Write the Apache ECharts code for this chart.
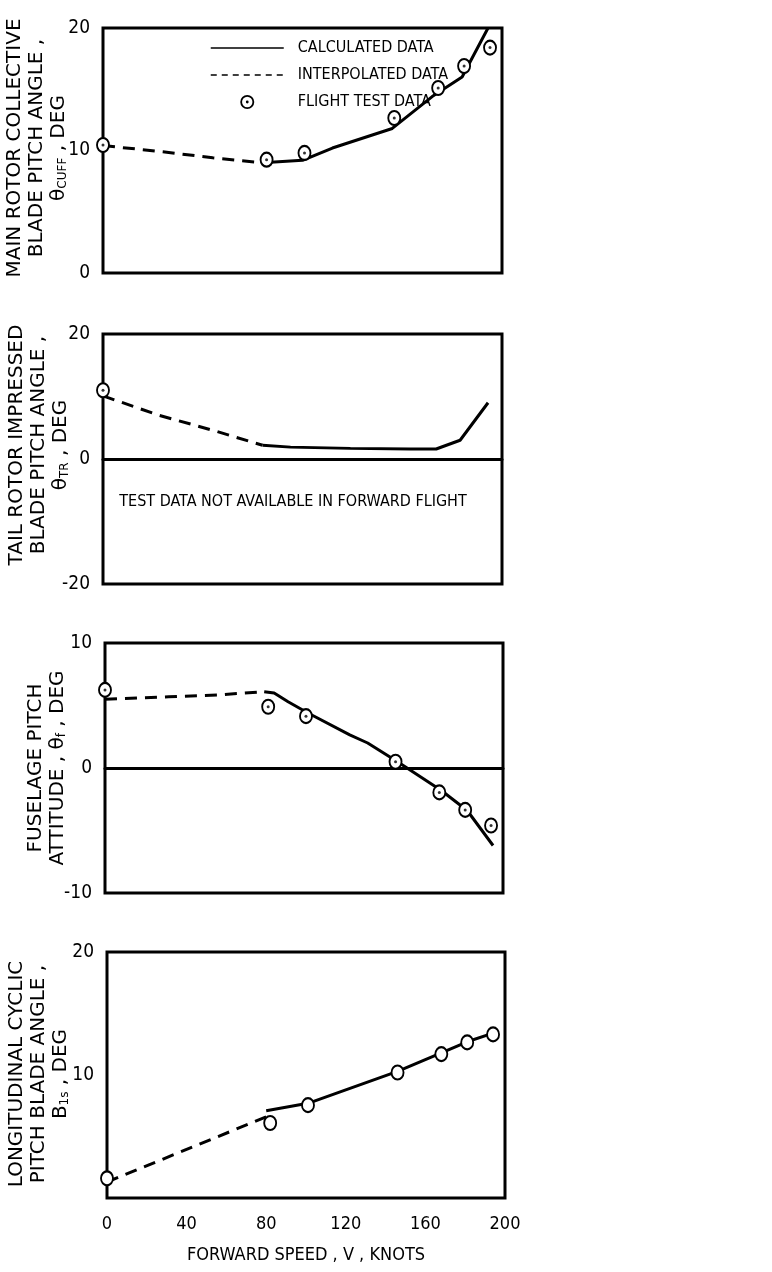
<!DOCTYPE html>
<html>
<head>
<meta charset="utf-8">
<title>Trim comparison versus forward speed</title>
<script src="https://cdn.jsdelivr.net/npm/echarts@6/dist/echarts.min.js"></script>
<style>
  html, body { margin: 0; padding: 0; background: #fff; }
  #chart { width: 772px; height: 1272px; }
</style>
</head>
<body>
<div id="chart"></div>
<script>
// Forward speed of the flight test points, knots
const testSpeed = [0, 82, 101, 146, 168, 181, 194];

// Main rotor collective blade pitch angle, deg
const collectiveTest = [10.45, 9.25, 9.8, 12.65, 15.1, 16.9, 18.4];
const collectiveInterpSpeed = [0, 30, 55, 80];
const collectiveInterp = [10.4, 9.9, 9.4, 9.0];
const collectiveCalcSpeed = [80, 100, 115, 145, 165, 180, 193];
const collectiveCalc = [9.0, 9.2, 10.2, 11.8, 14.4, 16.0, 20.0];

// Tail rotor impressed blade pitch angle, deg (hover test point only)
const tailTestSpeed = [0];
const tailTest = [11.0];
const tailInterpSpeed = [0, 28, 55, 80];
const tailInterp = [10.1, 7.0, 4.6, 2.2];
const tailCalcSpeed = [80, 94, 124, 154, 167, 179, 193];
const tailCalc = [2.2, 1.9, 1.7, 1.6, 1.6, 3.0, 9.0];

// Fuselage pitch attitude, deg
const attitudeTest = [6.25, 4.9, 4.15, 0.5, -1.95, -3.35, -4.6];
const attitudeInterpSpeed = [0, 32, 57, 80];
const attitudeInterp = [5.5, 5.7, 5.85, 6.1];
const attitudeCalcSpeed = [80, 85, 92, 102, 123, 132, 147, 169, 182, 195];
const attitudeCalc = [6.1, 6.0, 5.3, 4.4, 2.65, 2.0, 0.5, -1.8, -3.4, -6.2];

// Longitudinal cyclic pitch blade angle, deg
const cyclicTest = [1.6, 6.1, 7.55, 10.2, 11.7, 12.65, 13.3];
const cyclicInterpSpeed = [0, 80];
const cyclicInterp = [1.3, 6.6];
const cyclicCalcSpeed = [80, 101, 146, 168, 181, 194];
const cyclicCalc = [7.1, 7.7, 10.3, 11.8, 12.7, 13.4];

// Axis ranges and tick labels
const speedTicks = [0, 40, 80, 120, 160, 200];
const yRanges = [[0, 20, 10], [-20, 20, 20], [-10, 10, 10], [0, 20, 10]];

const LEGEND_CALC = 'CALCULATED DATA';
const LEGEND_INTERP = 'INTERPOLATED DATA';
const LEGEND_TEST = 'FLIGHT TEST DATA';

const FONT_NARROW = '"Liberation Sans Narrow", "DejaVu Sans Condensed", sans-serif';
const FONT_WIDE = '"DejaVu Sans", sans-serif';

const zip = (xs, ys) => xs.map((x, i) => [x, ys[i]]);

const panels = [
  { test: zip(testSpeed, collectiveTest), interp: zip(collectiveInterpSpeed, collectiveInterp),
    calc: zip(collectiveCalcSpeed, collectiveCalc), dot: true },
  { test: zip(tailTestSpeed, tailTest), interp: zip(tailInterpSpeed, tailInterp),
    calc: zip(tailCalcSpeed, tailCalc), dot: true },
  { test: zip(testSpeed, attitudeTest), interp: zip(attitudeInterpSpeed, attitudeInterp),
    calc: zip(attitudeCalcSpeed, attitudeCalc), dot: true },
  { test: zip(testSpeed, cyclicTest), interp: zip(cyclicInterpSpeed, cyclicInterp),
    calc: zip(cyclicCalcSpeed, cyclicCalc), dot: false }
];

const grids = [
  { left: 103, right: 270, top: 28, height: 245 },
  { left: 103, right: 270, top: 334, height: 250 },
  { left: 105, right: 269, top: 643, height: 250 },
  { left: 107, right: 267, top: 952, height: 246 }
].map(g => Object.assign(g, { show: true, borderColor: '#000', borderWidth: 3, backgroundColor: 'transparent' }));

const xAxes = grids.map((g, i) => ({
  type: 'value', gridIndex: i, min: speedTicks[0], max: speedTicks[speedTicks.length - 1],
  interval: speedTicks[1] - speedTicks[0],
  axisLine: { show: i === 1 || i === 2, onZero: true, lineStyle: { color: '#000', width: 3 } },
  axisTick: { show: false },
  splitLine: { show: false },
  axisLabel: {
    show: i === 3, color: '#000', fontFamily: FONT_NARROW, fontSize: 18, margin: 17
  },
  name: i === 3 ? 'FORWARD SPEED , V , KNOTS' : '',
  nameLocation: 'middle', nameGap: 48,
  nameTextStyle: { color: '#000', fontFamily: FONT_NARROW, fontSize: 18 }
}));

const yAxes = yRanges.map((r, i) => ({
  type: 'value', gridIndex: i, min: r[0], max: r[1], interval: r[2],
  axisLine: { show: false }, axisTick: { show: false }, splitLine: { show: false },
  axisLabel: {
    color: '#000', fontFamily: FONT_NARROW, fontSize: 19, margin: 13,
    formatter: v => (i === 3 && v === 0) ? '' : String(v)
  }
}));

const series = [];
panels.forEach((p, i) => {
  series.push({
    name: LEGEND_INTERP, type: 'line', xAxisIndex: i, yAxisIndex: i, data: p.interp,
    symbol: 'none', silent: true, z: 2, color: '#000',
    lineStyle: { color: '#000', width: 3, type: [12, 8] }
  });
  series.push({
    name: LEGEND_CALC, type: 'line', xAxisIndex: i, yAxisIndex: i, data: p.calc,
    symbol: 'none', silent: true, z: 2, color: '#000',
    lineStyle: { color: '#000', width: 3 }
  });
  series.push({
    name: LEGEND_TEST, type: 'scatter', xAxisIndex: i, yAxisIndex: i, data: p.test,
    symbol: 'circle', symbolSize: [12, 14], clip: false, silent: true, z: 4,
    itemStyle: { color: '#fff', borderColor: '#000', borderWidth: 2, opacity: 1 }
  });
  if (p.dot) {
    series.push({
      name: LEGEND_TEST, type: 'scatter', xAxisIndex: i, yAxisIndex: i, data: p.test,
      symbol: 'circle', symbolSize: 3, clip: false, silent: true, z: 5,
      itemStyle: { color: '#000' }
    });
  }
});

// Legend glyph: ring with a centre dot
const ringDot = 'path://M0,-7A7,7 0 1,1 0,7A7,7 0 1,1 0,-7ZM0,-5.2A5.2,5.2 0 1,0 0,5.2A5.2,5.2 0 1,0 0,-5.2ZM0,-1.4A1.4,1.4 0 1,1 0,1.4A1.4,1.4 0 1,1 0,-1.4Z';

const titleStyle = (text) => ({
  text,
  fontFamily: FONT_WIDE, fontSize: 20, lineHeight: 22, fill: '#000',
  align: 'center', verticalAlign: 'middle',
  rich: {
    s: { fontFamily: FONT_WIDE, fontSize: 12, fill: '#000', padding: [8, 0, 0, 0] }
  }
});

const graphics = [
  { type: 'text', x: 37, y: 148, rotation: Math.PI / 2,
    style: titleStyle('MAIN ROTOR COLLECTIVE\nBLADE PITCH ANGLE ,\nθ{s|CUFF} , DEG') },
  { type: 'text', x: 39, y: 445, rotation: Math.PI / 2,
    style: titleStyle('TAIL ROTOR IMPRESSED\nBLADE PITCH ANGLE ,\nθ{s|TR} , DEG') },
  { type: 'text', x: 47, y: 768, rotation: Math.PI / 2,
    style: titleStyle('FUSELAGE PITCH\nATTITUDE , θ{s|f} , DEG') },
  { type: 'text', x: 39, y: 1074, rotation: Math.PI / 2,
    style: titleStyle('LONGITUDINAL CYCLIC\nPITCH BLADE ANGLE ,\nB{s|1s} , DEG') },
  { type: 'text', x: 293, y: 502,
    style: { text: 'TEST DATA NOT AVAILABLE IN FORWARD FLIGHT', fontFamily: FONT_NARROW,
      fontSize: 16, fill: '#000', align: 'center', verticalAlign: 'middle' } }
];

const chart = echarts.init(document.getElementById('chart'), null, { renderer: 'canvas' });
chart.setOption({
  animation: false,
  backgroundColor: '#fff',
  grid: grids,
  xAxis: xAxes,
  yAxis: yAxes,
  legend: {
    left: 205, top: 35, orient: 'vertical',
    itemWidth: 73, itemHeight: 14, itemGap: 11,
    selectedMode: false,
    textStyle: { color: '#000', fontFamily: FONT_NARROW, fontSize: 16, padding: [0, 0, 0, 9] },
    data: [
      { name: LEGEND_CALC, itemStyle: { opacity: 0 }, lineStyle: { width: 1.5, type: 'solid', color: '#000' } },
      { name: LEGEND_INTERP, itemStyle: { opacity: 0 }, lineStyle: { width: 1.5, type: [6, 5], color: '#000' } },
      { name: LEGEND_TEST, icon: ringDot, itemStyle: { color: '#000', borderWidth: 0, opacity: 1 } }
    ]
  },
  graphic: graphics,
  series
});
</script>
</body>
</html>
